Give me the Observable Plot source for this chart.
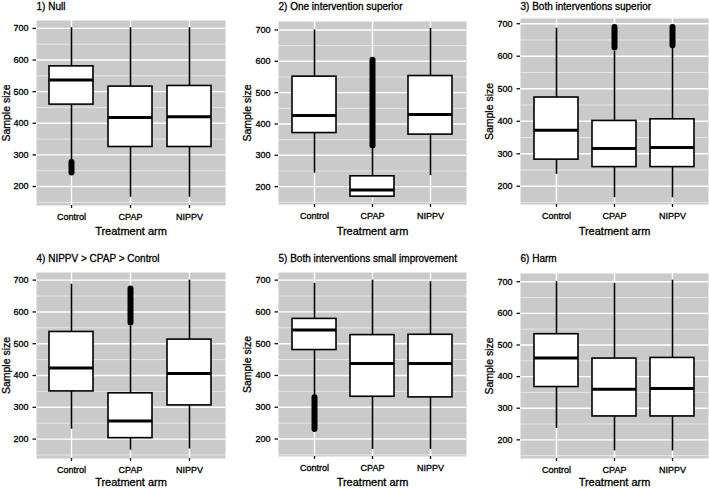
<!DOCTYPE html>
<html><head><meta charset="utf-8">
<script src="https://cdn.jsdelivr.net/npm/d3@7"></script>
<script src="https://cdn.jsdelivr.net/npm/@observablehq/plot@0.6"></script>
<style>
body{margin:0;background:#fff;}
#root{position:relative;width:709px;height:488px;overflow:hidden;background:#fff}
.panel{position:absolute}
.panel svg{overflow:visible}
.panel svg text{stroke:#000;stroke-width:0.3px;paint-order:normal}
</style></head><body><div id="root"></div>
<script>
// ---- data ----
const arms = ["Control", "CPAP", "NIPPV"];
const titles = [
  "1) Null",
  "2) One intervention superior",
  "3) Both interventions superior",
  "4) NIPPV > CPAP > Control",
  "5) Both interventions small improvement",
  "6) Harm"
];
const whiskerLow  = [[280,166,166],[243,165,235],[237,165,165],[231,165,169],[335,167,167],[236,165,165]];
const quart1      = [[459,325,325],[371,168,366],[282,259,259],[350,203,306],[480,333,331],[367,274,274]];
const medians     = [[537,418,421],[427,189,430],[372,316,319],[424,257,406],[543,438,438],[459,360,362]];
const quart3      = [[580,516,518],[551,233,553],[473,401,406],[537,344,513],[578,527,528],[534,457,459]];
const whiskerHigh = [[702,702,702],[700,325,705],[686,615,625],[687,556,700],[690,700,695],[700,695,705]];
// dense outlier runs: panel index, arm, lowest and highest outlier
const outlierPanel = [0, 1, 2, 2, 3, 4];
const outlierArm   = ["Control", "CPAP", "CPAP", "NIPPV", "CPAP", "Control"];
const outlierLow   = [243, 330, 625, 632, 565, 230];
const outlierHigh  = [276, 603, 688, 688, 672, 330];
const yTicks = [200, 300, 400, 500, 600, 700];
const yMinor = [150, 250, 350, 450, 550, 650];
const yLabel = "Sample size";
const xLabel = "Treatment arm";

// ---- layout (not data) ----
const layout = [
  {ox:0,   oy:0,   w:236, h:243, mL:36, mR:11, mT:20, mB:38, dom:[140,725]},
  {ox:236, oy:0,   w:236, h:243, mL:42, mR:6,  mT:21, mB:39, dom:[143,727]},
  {ox:472, oy:0,   w:237, h:243, mL:48, mR:1,  mT:18, mB:39, dom:[144,716]},
  {ox:0,   oy:243, w:236, h:245, mL:36, mR:11, mT:29, mB:30, dom:[139,724]},
  {ox:236, oy:243, w:236, h:245, mL:42, mR:6,  mT:29, mB:32, dom:[145,724]},
  {ox:472, oy:243, w:237, h:245, mL:48, mR:1,  mT:30, mB:30, dom:[141,726]}
];
const titleCenterY = [6, 6, 6, 258.5, 258.5, 258.5];
const xLabelCenterY = [231, 231, 231, 481.5, 481.5, 481.5];
const yLabelCenterX = [6, 247, 489, 6, 247, 489];

const FONT = "'Liberation Sans', Arial, Helvetica, sans-serif";
const root = document.getElementById("root");

layout.forEach((L, p) => {
  const rows = arms.map((a, i) => ({
    arm: a, lo: whiskerLow[p][i], q1: quart1[p][i], med: medians[p][i], q3: quart3[p][i], hi: whiskerHigh[p][i]
  }));
  const outs = outlierPanel.map((pp, k) => ({pp, arm: outlierArm[k], lo: outlierLow[k], hi: outlierHigh[k]}))
    .filter(d => d.pp === p);
  const frameTop = L.oy + L.mT, frameBottom = L.oy + L.h - L.mB, frameLeft = L.ox + L.mL;
  const chart = Plot.plot({
    width: L.w, height: L.h,
    marginLeft: L.mL, marginRight: L.mR, marginTop: L.mT, marginBottom: L.mB,
    x: {type: "band", domain: arms, paddingInner: 0.25, paddingOuter: 0.225, label: null},
    y: {domain: L.dom, label: null},
    style: {fontFamily: FONT, fontSize: "9px", color: "#000", background: "transparent", overflow: "visible"},
    marks: [
      Plot.frame({fill: "#cacaca", stroke: "none"}),
      Plot.ruleY(yMinor, {stroke: "#f2f2f2", strokeWidth: 0.7}),
      Plot.ruleY(yTicks, {stroke: "#ffffff", strokeWidth: 1.4}),
      Plot.ruleX(arms, {x: d => d, stroke: "#ffffff", strokeWidth: 1.4}),
      Plot.ruleX(rows, {x: "arm", y1: "lo", y2: "hi", stroke: "#000", strokeWidth: 1.6}),
      Plot.ruleX(outs, {x: "arm", y1: "lo", y2: "hi", stroke: "#000", strokeWidth: 6, strokeLinecap: "round"}),
      Plot.barY(rows, {x: "arm", y1: "q1", y2: "q3", fill: "#fff", stroke: "#000", strokeWidth: 1.6}),
      Plot.tickY(rows, {x: "arm", y: "med", stroke: "#000", strokeWidth: 3}),
      Plot.axisY(yTicks, {tickSize: 3.5, tickPadding: 4.5, label: null, fontSize: 9, stroke: "#111", strokeWidth: 1.3}),
      Plot.axisX({tickSize: 3, tickPadding: 5, label: null, fontSize: 9, stroke: "#111", strokeWidth: 1.3}),
      Plot.text([titles[p]], {text: d => d, frameAnchor: "top-left", textAnchor: "start", lineAnchor: "middle",
        dy: titleCenterY[p] - frameTop, fontSize: 10, fill: "#000"}),
      Plot.text([xLabel], {text: d => d, frameAnchor: "bottom", textAnchor: "middle", lineAnchor: "middle",
        dy: xLabelCenterY[p] - frameBottom, fontSize: 11, fill: "#000"}),
      Plot.text([yLabel], {text: d => d, frameAnchor: "left", textAnchor: "middle", lineAnchor: "middle", rotate: -90,
        dx: yLabelCenterX[p] - frameLeft, fontSize: 10.5, fill: "#000"})
    ]
  });
  const div = document.createElement("div");
  div.className = "panel";
  div.style.left = L.ox + "px";
  div.style.top = L.oy + "px";
  div.appendChild(chart);
  root.appendChild(div);
});
</script>
</body></html>
